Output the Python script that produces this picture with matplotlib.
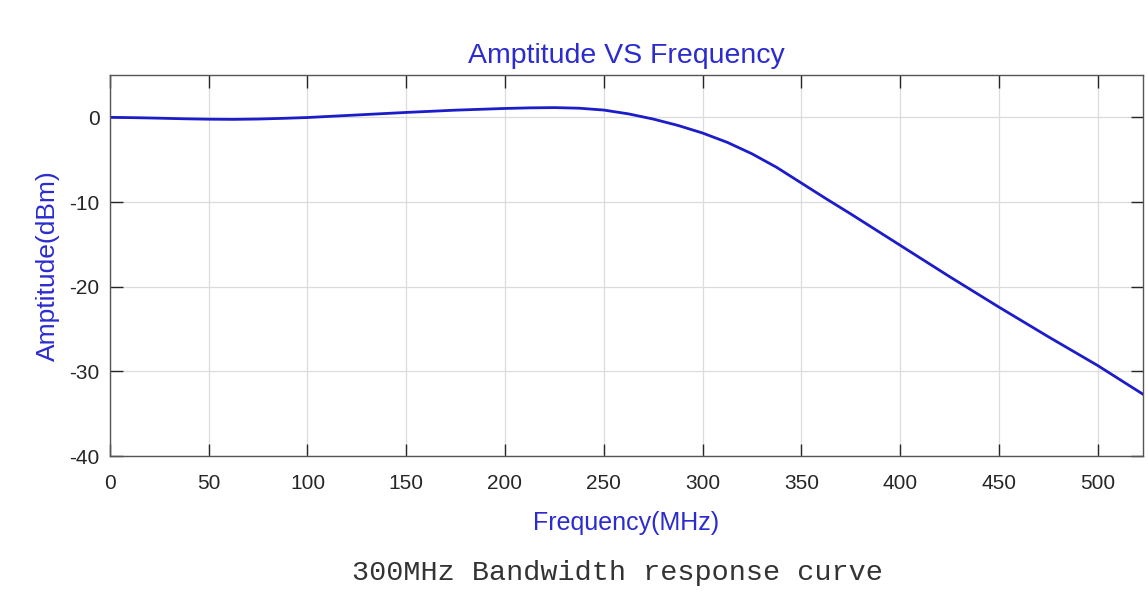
import matplotlib.pyplot as plt

# values
freq = [0, 12.5, 25, 37.5, 50, 62.5, 75, 87.5, 100, 125, 150, 175, 200,
        212.5, 225, 237.5, 250, 262.5, 275, 287.5, 300, 312.5, 325, 337.5,
        350, 362.5, 375, 387.5, 400, 425, 450, 475, 500, 523]
amp = [0.0, -0.04, -0.1, -0.17, -0.22, -0.24, -0.2, -0.12, -0.02, 0.28,
       0.58, 0.85, 1.05, 1.12, 1.15, 1.08, 0.86, 0.41, -0.2, -0.95, -1.85,
       -2.95, -4.3, -5.9, -7.75, -9.6, -11.4, -13.25, -15.1, -18.8, -22.4,
       -25.9, -29.3, -32.7]

x_ticks = [0, 50, 100, 150, 200, 250, 300, 350, 400, 450, 500]
y_ticks = [-40, -30, -20, -10, 0]

blue_txt = '#2b2bd0'
line_col = '#1c1cc8'
dark = '#262626'

plt.rcParams['font.family'] = ['Liberation Sans', 'DejaVu Sans']
plt.rcParams['axes.unicode_minus'] = False

fig = plt.figure(figsize=(11.48, 6.02), dpi=100)
ax = fig.add_axes([0.0958, 0.2425, 0.8998, 0.6329])

ax.plot(freq, amp, color=line_col, linewidth=2.0)

ax.set_xlim(0, 523)
ax.set_ylim(-40, 5)
ax.set_xticks(x_ticks)
ax.set_yticks(y_ticks)
ax.grid(True, color='#dcdcdc', linewidth=0.9)
ax.set_axisbelow(True)

ax.tick_params(direction='in', length=9, width=1.0, color=dark,
               top=True, right=True, labelsize=15, labelcolor=dark)
ax.tick_params(axis='x', pad=13)
ax.tick_params(axis='y', pad=7.5)
for s in ax.spines.values():
    s.set_color('#555555')
    s.set_linewidth(1.0)

ax.set_title('Amptitude VS Frequency', color=blue_txt, fontsize=20.5, pad=9)
ax.set_xlabel('Frequency(MHz)', color=blue_txt, fontsize=18, labelpad=13)
ax.set_ylabel('Amptitude(dBm)', color=blue_txt, fontsize=19, labelpad=7)

fig.text(0.5376, 0.048, '300MHz Bandwidth response curve',
         family=['Liberation Mono', 'DejaVu Sans Mono'], fontsize=20.5,
         color='#333333', ha='center', va='center')

fig.savefig('out.png', dpi=100)
